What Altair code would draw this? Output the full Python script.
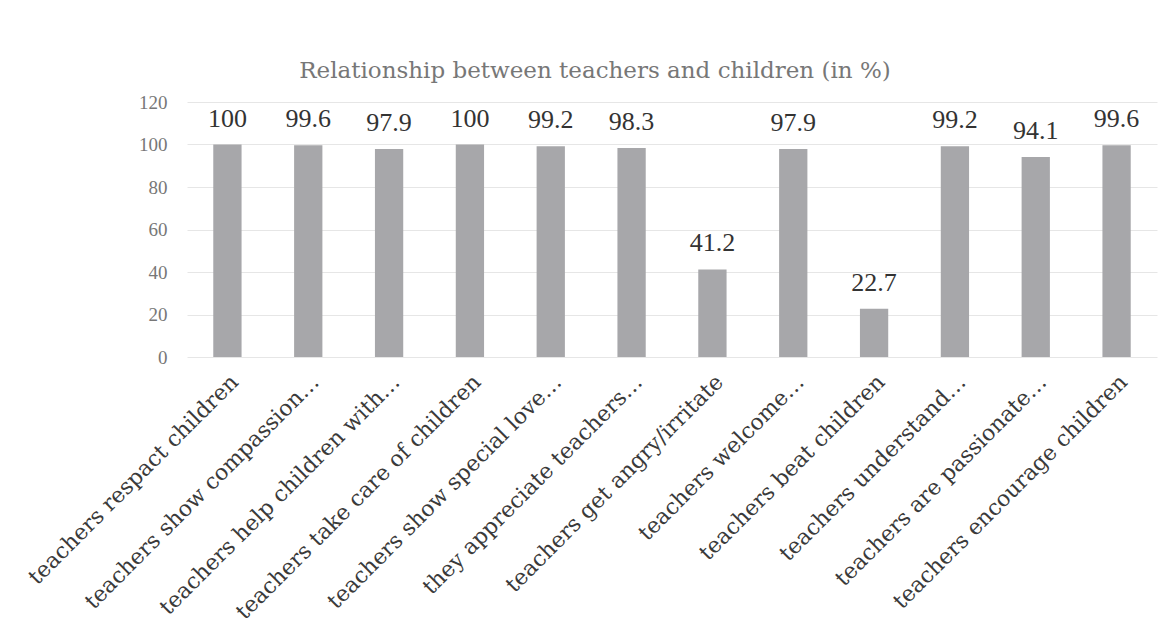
import altair as alt
import pandas as pd

categories = [
    "teachers respact children",
    "teachers show compassion…",
    "teachers help children with…",
    "teachers take care of children",
    "teachers show special love…",
    "they appreciate teachers…",
    "teachers get angry/irritate",
    "teachers welcome…",
    "teachers beat children",
    "teachers understand…",
    "teachers are passionate…",
    "teachers encourage children",
]
values = [100, 99.6, 97.9, 100, 99.2, 98.3, 41.2, 97.9, 22.7, 99.2, 94.1, 99.6]
y_ticks = [0, 20, 40, 60, 80, 100, 120]

df = pd.DataFrame({"cat": categories, "val": values})
WIDE = "DejaVu Serif"
TIMES = "Liberation Serif"

x = alt.X(
    "cat:N",
    sort=categories,
    title=None,
    scale=alt.Scale(paddingInner=0.65, paddingOuter=0.325),
    axis=alt.Axis(
        labelAngle=-45,
        labelFont=WIDE,
        labelFontSize=22,
        labelColor="#3a3a3a",
        labelPadding=14,
        ticks=False,
        domain=False,
        grid=False,
        labelLimit=500,
    ),
)
y = alt.Y(
    "val:Q",
    title=None,
    scale=alt.Scale(domain=[0, 120], nice=False),
    axis=alt.Axis(
        values=y_ticks,
        labelFont=TIMES,
        labelFontSize=19,
        labelColor="#777777",
        labelPadding=20,
        ticks=False,
        domain=False,
        gridColor="#e6e6e6",
    ),
)

bars = alt.Chart(df).mark_bar(color="#a7a7aa").encode(x=x, y=y)
labels = alt.Chart(df).mark_text(
    font=TIMES, fontSize=26, color="#333333", baseline="alphabetic", dy=-18
).encode(x=x, y=y, text=alt.Text("val:Q", format="~g"))

chart = (
    alt.layer(bars, labels)
    .properties(
        width=970,
        height=255,
        background="white",
        title=alt.TitleParams(
            "Relationship between teachers and children (in %)",
            font=WIDE,
            fontSize=23,
            fontWeight="normal",
            color="#777777",
            anchor="middle",
            dx=-77,
            offset=10,
        ),
        autosize=alt.AutoSizeParams(type="none"),
        padding={"left": 187, "top": 102, "right": 15, "bottom": 273},
    )
    .configure_view(stroke="transparent", strokeWidth=0)
)

chart.save("out.html", embed_options={"renderer": "svg", "actions": False})
